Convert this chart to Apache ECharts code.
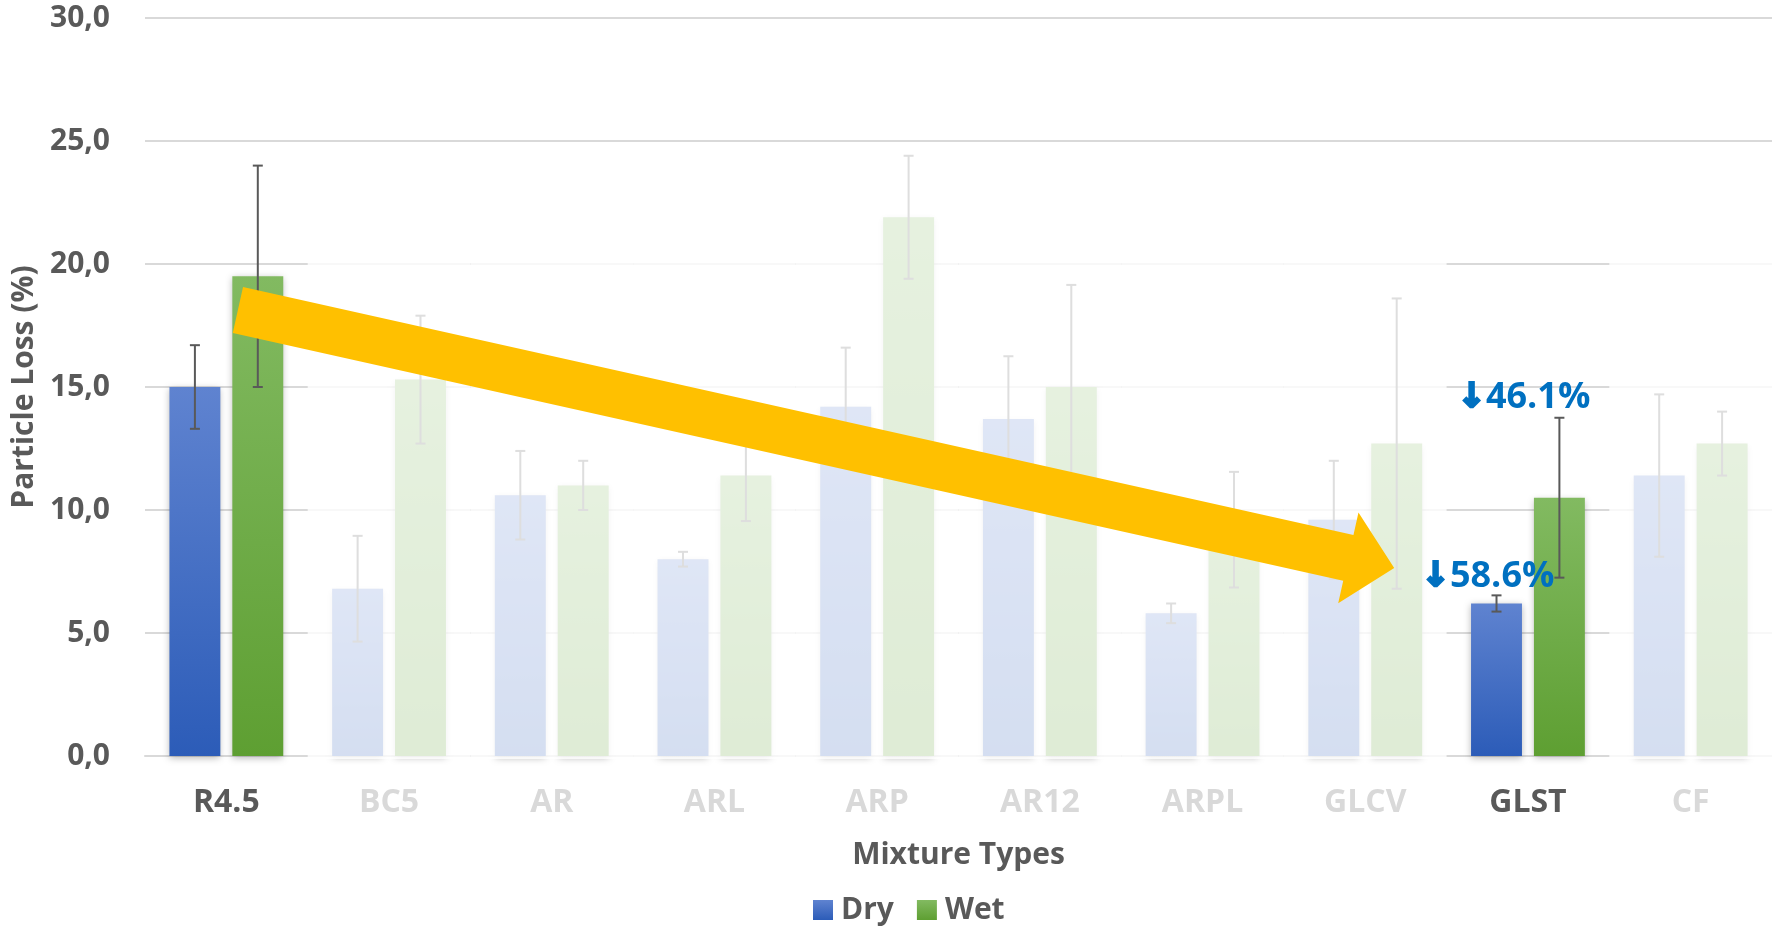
<!DOCTYPE html>
<html><head><meta charset="utf-8">
<script src="https://cdn.jsdelivr.net/npm/echarts@6/dist/echarts.min.js"></script>
<style>html,body{margin:0;padding:0;background:#fff}#c{width:1772px;height:929px}</style>
</head><body><div id="c"></div>
<script>
// ---- data ----
const categories = ['R4.5','BC5','AR','ARL','ARP','AR12','ARPL','GLCV','GLST','CF'];
const dryValues = [15.0, 6.8, 10.6, 8.0, 14.2, 13.7, 5.8, 9.6, 6.2, 11.4];
const wetValues = [19.5, 15.3, 11.0, 11.4, 21.9, 15.0, 9.2, 12.7, 10.5, 12.7];
const dryError  = [1.7, 2.15, 1.8, 0.3, 2.4, 2.55, 0.4, 2.4, 0.33, 3.3];
const wetError  = [4.5, 2.6, 1.0, 1.85, 2.5, 4.15, 2.35, 5.9, 3.25, 1.3];
const highlighted = ['R4.5', 'GLST'];
const annotationTexts = ['46.1%', '58.6%'];

// ---- styling constants ----
const FONT = "'Open Sans', 'Noto Sans', sans-serif";
const BAR_W = 0.313, BAR_GAP = 0.235;
const BAR_OFFSET = BAR_W * (1 + BAR_GAP) / 2;
const DARK = '#595959';

const chart = echarts.init(document.getElementById('c'));

function grad(top, bottom) {
  return {type:'linear', x:0, y:0, x2:0, y2:1, colorStops:[{offset:0,color:top},{offset:1,color:bottom}]};
}

function errorSeries(values, errors, sign) {
  return {
    type:'custom', z:3, silent:true, clip:false,
    data: values.map((v,i)=>[i, v - errors[i], v + errors[i]]),
    encode:{x:0, y:[1,2]},
    renderItem(params, api) {
      const i = api.value(0);
      const lo = api.coord([i, api.value(1)]);
      const hi = api.coord([i, api.value(2)]);
      const bw = api.size([1,0])[0];
      const x = lo[0] + sign * bw * BAR_OFFSET;
      const cap = 5;
      const st = {stroke:DARK, lineWidth:2};
      return {type:'group', children:[
        {type:'line', shape:{x1:x, y1:hi[1], x2:x, y2:lo[1]}, style:st},
        {type:'line', shape:{x1:x-cap, y1:hi[1], x2:x+cap, y2:hi[1]}, style:st},
        {type:'line', shape:{x1:x-cap, y1:lo[1], x2:x+cap, y2:lo[1]}, style:st}
      ]};
    }
  };
}

const fadedIdx = categories.map((c,i)=>i).filter(i => highlighted.indexOf(categories[i]) < 0);

const option = {
  animation:false,
  textStyle:{fontFamily:FONT},
  grid:{left:145, right:0, top:18, bottom:173},
  legend:{
    data:['Dry','Wet'], left:808, top:890, itemWidth:20, itemHeight:20, itemGap:23, icon:'rect',
    textStyle:{fontSize:30, fontWeight:'bold', color:DARK, fontFamily:FONT, padding:[0,0,0,3]}
  },
  xAxis:{
    type:'category', data:categories,
    axisTick:{show:false},
    axisLine:{lineStyle:{color:'#d9d9d9', width:2}},
    axisLabel:{
      margin:31, interval:0,
      formatter: v => highlighted.indexOf(v) >= 0 ? '{hi|' + v + '}' : '{lo|' + v + '}',
      rich:{
        hi:{fontSize:32, fontWeight:'bold', color:DARK, fontFamily:FONT},
        lo:{fontSize:32, fontWeight:'bold', color:'#d9d9d9', fontFamily:FONT}
      }
    },
    name:'Mixture Types', nameLocation:'middle', nameGap:84,
    nameTextStyle:{fontSize:30, fontWeight:'bold', color:DARK, fontFamily:FONT}
  },
  yAxis:{
    type:'value', min:0, max:30, interval:5,
    axisLine:{show:false}, axisTick:{show:false},
    splitLine:{lineStyle:{color:'#d9d9d9', width:2}},
    axisLabel:{fontSize:30, fontWeight:'bold', color:DARK, margin:35, fontFamily:FONT,
      formatter: v => v.toFixed(1).replace('.', ',')},
    name:'Particle Loss (%)', nameLocation:'middle', nameGap:106,
    nameTextStyle:{fontSize:30, fontWeight:'bold', color:DARK, fontFamily:FONT}
  },
  series:[
    {
      name:'Dry', type:'bar', data:dryValues, barWidth:(BAR_W*100)+'%', barGap:(BAR_GAP*100)+'%', z:2,
      itemStyle:{color:grad('#5F83D0','#2C5CB8'), shadowBlur:7, shadowColor:'rgba(0,0,0,0.28)', shadowOffsetY:2}
    },
    {
      name:'Wet', type:'bar', data:wetValues, barWidth:(BAR_W*100)+'%', barGap:(BAR_GAP*100)+'%', z:2,
      itemStyle:{color:grad('#82BA61','#5E9F32'), shadowBlur:7, shadowColor:'rgba(0,0,0,0.28)', shadowOffsetY:2}
    },
    errorSeries(dryValues, dryError, -1),
    errorSeries(wetValues, wetError, 1),
    {
      type:'custom', z:4, silent:true, clip:false,
      data: fadedIdx.map(i => [i, 24.7]),
      encode:{x:0, y:1},
      renderItem(params, api) {
        const i = api.value(0);
        const top = api.coord([i, api.value(1)]);
        const bot = api.coord([i, 0]);
        const bw = api.size([1,0])[0];
        return {type:'rect', shape:{x:top[0]-bw/2, y:top[1], width:bw, height:bot[1]-top[1]+3},
          style:{fill:'rgba(255,255,255,0.8)'}};
      }
    },
    {
      type:'custom', z:5, silent:true, clip:false,
      data:[[0, 18.13, 7, 7.64]],
      encode:{x:[0,2], y:[1,3]},
      renderItem(params, api) {
        const bw = api.size([1,0])[0];
        const a = api.coord([api.value(0), api.value(1)]); a[0] += 0.071*bw;
        const b = api.coord([api.value(2), api.value(3)]); b[0] += 0.178*bw;
        const dx=b[0]-a[0], dy=b[1]-a[1], L=Math.hypot(dx,dy), ux=dx/L, uy=dy/L, nx=-uy, ny=ux;
        const sw=23.5, hw=46.5, hl=47;
        const bx=b[0]-ux*hl, by=b[1]-uy*hl;
        const pts=[[a[0]+nx*sw,a[1]+ny*sw],[bx+nx*sw,by+ny*sw],[bx+nx*hw,by+ny*hw],[b[0],b[1]],
                   [bx-nx*hw,by-ny*hw],[bx-nx*sw,by-ny*sw],[a[0]-nx*sw,a[1]-ny*sw]];
        return {type:'polygon', shape:{points:pts}, style:{fill:'#FFC000'}};
      }
    },
    {
      type:'custom', z:6, silent:true, clip:false,
      data:[[8, 14.55, -0.025], [8, 7.28, -0.246]],
      encode:{x:0, y:1},
      renderItem(params, api) {
        const bw = api.size([1,0])[0];
        const p = api.coord([api.value(0), api.value(1)]);
        return {type:'text', style:{
          text:'{a|\u2193}{b|' + annotationTexts[params.dataIndex] + '}',
          x:p[0]+api.value(2)*bw, y:p[1], align:'center', verticalAlign:'middle',
          rich:{
            a:{fontFamily:'DejaVu Sans', fontWeight:'bold', fontSize:34, fill:'#0070C0',
               stroke:'#0070C0', lineWidth:2.5},
            b:{fontFamily:FONT, fontWeight:'bold', fontSize:36, fill:'#0070C0'}
          }}};
      }
    }
  ]
};
chart.setOption(option);
</script>
</body></html>
